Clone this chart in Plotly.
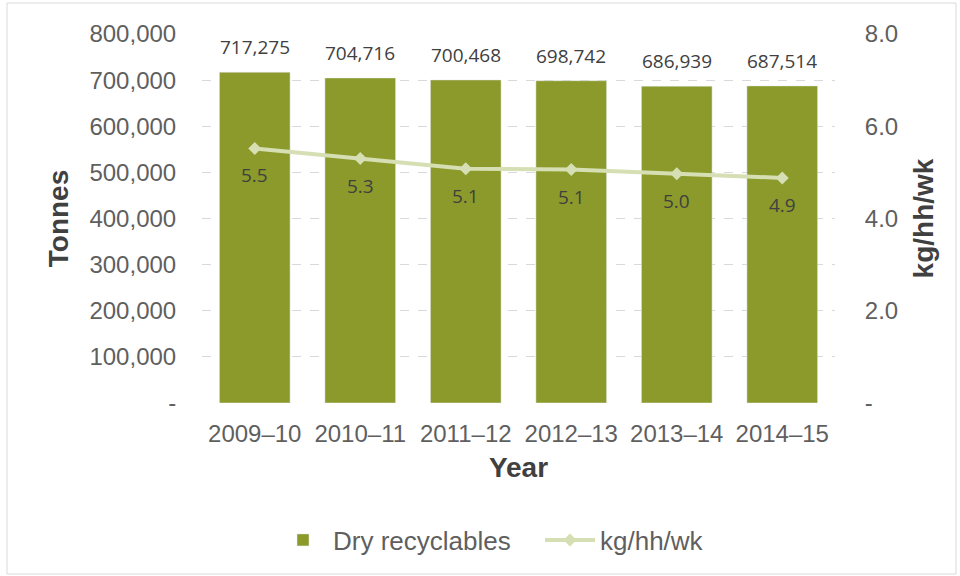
import plotly.graph_objects as go

years = ["2009–10", "2010–11", "2011–12", "2012–13", "2013–14", "2014–15"]
tonnes = [717275, 704716, 700468, 698742, 686939, 687514]
kg_hh_wk = [5.52, 5.30, 5.08, 5.06, 4.97, 4.88]

left_ticks = [0, 100000, 200000, 300000, 400000, 500000, 600000, 700000, 800000]
left_ticktext = ["-"] + [f"{v:,}" for v in left_ticks[1:]]
right_ticks = [0, 2, 4, 6, 8]
right_ticktext = ["-"] + [f"{v:.1f}" for v in right_ticks[1:]]

TICKFONT = "Liberation Sans"
LABELFONT = "Open Sans"
GRAY = "#5f5f5f"
DARK = "#404040"
BAR = "#8b9a2a"
LINE = "#d6deb3"

W, H = 960, 576
L, R, T, B = 202, 125, 34, 173
pw, ph = W - L - R, H - T - B

fig = go.Figure()
fig.add_trace(go.Bar(
    x=years, y=tonnes, name="Dry recyclables", marker_color=BAR,
))
fig.add_trace(go.Scatter(
    x=years, y=kg_hh_wk, name="kg/hh/wk", yaxis="y2", mode="lines+markers",
    line=dict(color=LINE, width=4), marker=dict(symbol="diamond", size=10, color=LINE),
))
for xv, tv in zip(years, tonnes):
    fig.add_annotation(x=xv, y=tv, yref="y", text=f"{tv:,}", showarrow=False,
                       yshift=25, font=dict(size=19, color=DARK, family=LABELFONT))
for xv, yv in zip(years, kg_hh_wk):
    fig.add_annotation(x=xv, y=yv, yref="y2", text=f"{yv:.1f}", showarrow=False,
                       yshift=-27, font=dict(size=19, color=DARK, family=LABELFONT))

def px_x(x):
    return (x - L) / pw

def px_y(y):
    return (H - B - y) / ph

fig.add_shape(type="rect", xref="paper", yref="paper",
              x0=px_x(7), x1=px_x(956), y0=px_y(574), y1=px_y(3),
              line=dict(color="#d9d9d9", width=1), fillcolor="rgba(0,0,0,0)", layer="below")

fig.update_layout(
    width=W, height=H, margin=dict(l=L, r=R, t=T, b=B),
    paper_bgcolor="white", plot_bgcolor="white",
    font=dict(family=TICKFONT, size=24, color=GRAY),
    bargap=0.33, showlegend=True,
    legend=dict(orientation="h", x=px_x(273), xanchor="left", y=px_y(540), yanchor="middle",
                font=dict(size=26, color=GRAY, family=TICKFONT), itemwidth=50,
                entrywidth=202, tracegroupgap=0),
    xaxis=dict(showline=False, ticks="outside", ticklen=9, tickcolor="rgba(0,0,0,0)",
               tickfont=dict(size=24, color=GRAY, family=TICKFONT),
               title=dict(text="<b>Year</b>", font=dict(size=28, color=DARK, family=TICKFONT), standoff=11)),
    yaxis=dict(range=[0, 800000], tickvals=left_ticks, ticktext=left_ticktext,
               showgrid=True, gridcolor="#d9d9d9", griddash="dash", gridwidth=1,
               zeroline=False, tickfont=dict(size=24, color=GRAY, family=TICKFONT),
               ticks="outside", ticklen=20, tickcolor="rgba(0,0,0,0)",
               title=dict(text="<b>Tonnes</b>", font=dict(size=28, color=DARK, family=TICKFONT), standoff=12)),
    yaxis2=dict(range=[0, 8], overlaying="y", side="right", tickvals=right_ticks,
                ticktext=right_ticktext, showgrid=False, zeroline=False,
                tickfont=dict(size=24, color=GRAY, family=TICKFONT),
                ticks="outside", ticklen=24, tickcolor="rgba(0,0,0,0)",
                title=dict(text="<b>kg/hh/wk</b>", font=dict(size=28, color=DARK, family=TICKFONT), standoff=16)),
)

fig.write_html("out.html", config={"displayModeBar": False},
               post_script="document.body.style.margin='0';")
